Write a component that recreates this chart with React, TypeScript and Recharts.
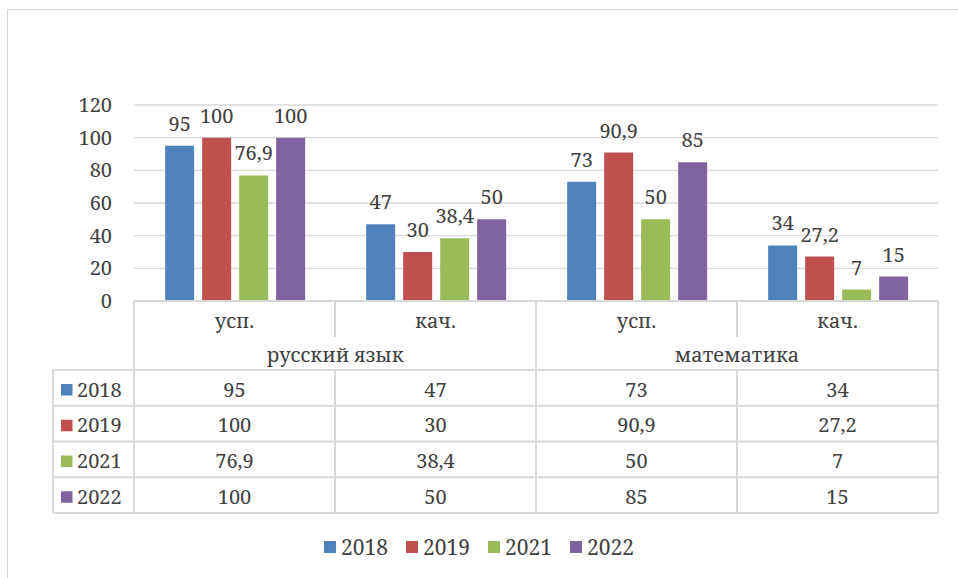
import React from 'react';
import { BarChart, Bar, XAxis, YAxis, CartesianGrid, LabelList } from 'recharts';

// данные графика
const CATEGORIES = ['усп.', 'кач.', 'усп.', 'кач.'];
const SUBJECTS = ['русский язык', 'математика'];
const YEARS = ['2018', '2019', '2021', '2022'];
const V2018 = [95, 47, 73, 34];
const V2019 = [100, 30, 90.9, 27.2];
const V2021 = [76.9, 38.4, 50, 7];
const V2022 = [100, 50, 85, 15];
const Y_TICKS = [0, 20, 40, 60, 80, 100, 120];

const SERIES = [V2018, V2019, V2021, V2022];
const COLORS = ['#4f81bd', '#c0504d', '#9bbb59', '#8064a2'];

const W = 958;
const H = 578;
const PLOT_LEFT = 134;
const PLOT_RIGHT = 938;
const PLOT_TOP = 105;
const PLOT_BOTTOM = 301;
const BAND = (PLOT_RIGHT - PLOT_LEFT) / CATEGORIES.length;
const TABLE_LEFT = 53;
const ROW_TOP = 370;
const ROW_H = 35.75;

const FONT = '"Noto Serif", "Liberation Serif", serif';
const TEXT = '#404040';
const LINE = '#d9d9d9';
const FS = 20;

const fmt = (v: number) => String(v).replace('.', ',');

const data = CATEGORIES.map((cat, i) => {
  const row: Record<string, any> = { key: i, cat };
  YEARS.forEach((y, s) => {
    row['y' + y] = SERIES[s][i];
  });
  return row;
});

// таблица данных под графиком
const DataTable = () => {
  const xs = CATEGORIES.map((_, i) => PLOT_LEFT + i * BAND);
  const bottom = ROW_TOP + ROW_H * YEARS.length;
  const lines: React.ReactNode[] = [];
  lines.push(<line key="top" x1={PLOT_LEFT} x2={PLOT_RIGHT} y1={PLOT_BOTTOM} y2={PLOT_BOTTOM} />);
  for (let r = 0; r <= YEARS.length; r++) {
    const y = ROW_TOP + r * ROW_H;
    lines.push(<line key={'h' + r} x1={TABLE_LEFT} x2={PLOT_RIGHT} y1={y} y2={y} />);
  }
  lines.push(<line key="vl" x1={TABLE_LEFT} x2={TABLE_LEFT} y1={ROW_TOP} y2={bottom} />);
  [...xs, PLOT_RIGHT].forEach((x, i) => {
    if (i % 2 === 1) {
      lines.push(<line key={'va' + i} x1={x} x2={x} y1={PLOT_BOTTOM} y2={PLOT_BOTTOM + 36} />);
      lines.push(<line key={'vb' + i} x1={x} x2={x} y1={ROW_TOP} y2={bottom} />);
    } else {
      lines.push(<line key={'v' + i} x1={x} x2={x} y1={PLOT_BOTTOM} y2={bottom} />);
    }
  });

  return (
    <svg width={W} height={H} style={{ position: 'absolute', left: 0, top: 0, pointerEvents: 'none' }}>
      <g stroke={LINE} strokeWidth={2}>{lines}</g>
      {CATEGORIES.map((c, i) => (
        <text key={'c' + i} x={xs[i] + BAND / 2} y={328} textAnchor="middle" style={{ fontFamily: FONT, fontSize: FS }} fill={TEXT}>{c}</text>
      ))}
      {SUBJECTS.map((s, j) => (
        <text key={'s' + j} x={PLOT_LEFT + (2 * j + 1) * BAND} y={362} textAnchor="middle" style={{ fontFamily: FONT, fontSize: FS }} fill={TEXT}>{s}</text>
      ))}
      {SERIES.map((vals, r) =>
        vals.map((v, i) => (
          <text key={'d' + r + '-' + i} x={xs[i] + BAND / 2} y={ROW_TOP + r * ROW_H + 26.5} textAnchor="middle" style={{ fontFamily: FONT, fontSize: FS }} fill={TEXT}>{fmt(v)}</text>
        ))
      )}
      {YEARS.map((y, r) => (
        <g key={'k' + r}>
          <rect x={61} y={ROW_TOP + r * ROW_H + 14} width={11.5} height={11.5} fill={COLORS[r]} />
          <text x={77} y={ROW_TOP + r * ROW_H + 26.5} style={{ fontFamily: FONT, fontSize: FS }} fill={TEXT}>{y}</text>
        </g>
      ))}
    </svg>
  );
};

const BottomLegend = () => (
  <div
    style={{
      position: 'absolute',
      left: 0,
      top: 532,
      width: W,
      display: 'flex',
      justifyContent: 'center',
      fontFamily: FONT,
      fontSize: 21,
      color: TEXT,
      lineHeight: '30px',
    }}
  >
    {YEARS.map((y, i) => (
      <div key={y} style={{ display: 'flex', alignItems: 'center', marginRight: i < YEARS.length - 1 ? 18 : 0 }}>
        <span style={{ width: 12, height: 12, background: COLORS[i], marginRight: 5, display: 'inline-block' }} />
        <span>{y}</span>
      </div>
    ))}
  </div>
);

export default function App() {
  return (
    <div style={{ position: 'absolute', left: 0, top: 0, width: W, height: H, background: '#fff', overflow: 'hidden', fontFamily: FONT }}>
      <div
        style={{
          position: 'absolute',
          left: 7,
          top: 9,
          width: W,
          height: H,
          borderLeft: '1px solid #d4d4d4',
          borderTop: '1px solid #d4d4d4',
        }}
      />
      <BarChart
        width={W}
        height={H}
        data={data}
        margin={{ top: PLOT_TOP, right: W - PLOT_RIGHT, bottom: H - PLOT_BOTTOM, left: 0 }}
        barCategoryGap="15.5%"
        barGap={8}
        style={{ position: 'absolute', left: 0, top: 0, fontFamily: FONT }}
      >
        <CartesianGrid vertical={false} stroke={LINE} strokeWidth={1.3} />
        <XAxis dataKey="key" hide />
        <YAxis
          width={PLOT_LEFT}
          domain={[0, 120]}
          ticks={Y_TICKS}
          tickLine={false}
          axisLine={false}
          tickMargin={16}
          tick={{ fontFamily: FONT, fontSize: FS, fill: TEXT }}
        />
        {YEARS.map((y, s) => (
          <Bar key={y} dataKey={'y' + y} name={y} fill={COLORS[s]} isAnimationActive={false}>
            <LabelList
              dataKey={'y' + y}
              position="top"
              offset={15}
              formatter={(v: any) => fmt(v)}
              style={{ fontFamily: FONT, fontSize: FS }}
              fill={TEXT}
            />
          </Bar>
        ))}
      </BarChart>
      <DataTable />
      <BottomLegend />
    </div>
  );
}
